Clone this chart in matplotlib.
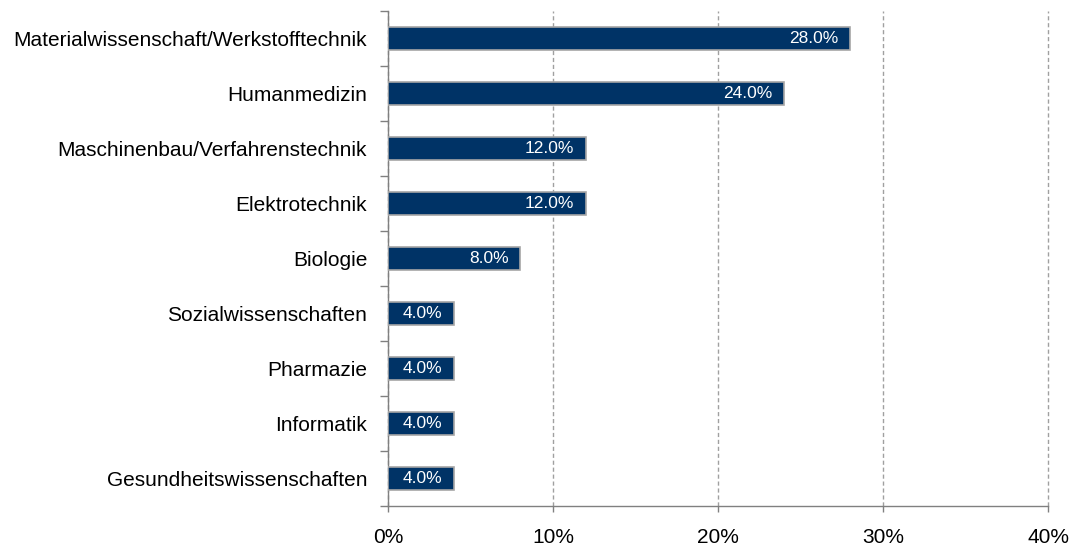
import matplotlib.pyplot as plt
from matplotlib.ticker import FixedLocator, PercentFormatter
import numpy as np

categories = [
    "Materialwissenschaft/Werkstofftechnik",
    "Humanmedizin",
    "Maschinenbau/Verfahrenstechnik",
    "Elektrotechnik",
    "Biologie",
    "Sozialwissenschaften",
    "Pharmazie",
    "Informatik",
    "Gesundheitswissenschaften",
]
shares = [28.0, 24.0, 12.0, 12.0, 8.0, 4.0, 4.0, 4.0, 4.0]
x_ticks = [0, 10, 20, 30, 40]

plt.rcParams['font.family'] = ['Liberation Sans', 'DejaVu Sans']

fig = plt.figure(figsize=(10.74, 5.45), dpi=100)
# axes box in pixels: x 388..1048, y 11..506
ax = fig.add_axes([388 / 1074, 1 - 506 / 545, 660 / 1074, 495 / 545])

pos = np.arange(len(categories))
bars = ax.barh(pos, shares, height=0.42, color="#003366",
               edgecolor="#a6a6a6", linewidth=1.2, zorder=3)

for b, v in zip(bars, shares):
    ax.text(b.get_width() - 0.7, b.get_y() + b.get_height() / 2, f"{v:.1f}%",
            ha="right", va="center", color="white", fontsize=12.5, zorder=4)

ax.set_xlim(0, 40)
ax.set_ylim(len(categories) - 0.5, -0.5)
ax.set_xticks(x_ticks)
ax.xaxis.set_major_formatter(PercentFormatter(decimals=0))
ax.set_yticks(pos)
ax.set_yticklabels(categories, fontsize=15)
ax.yaxis.set_minor_locator(FixedLocator(np.arange(-0.5, len(categories), 1)))

ax.tick_params(axis="y", which="major", length=0, pad=15)
ax.tick_params(axis="y", which="minor", length=6, color="#808080", width=1)
ax.tick_params(axis="x", length=4.5, color="#808080", width=1, labelsize=15, pad=11)

ax.grid(axis="x", linestyle=(0, (3, 2)), color="#a0a0a0", linewidth=1, zorder=0)
for line in ax.get_xgridlines():
    line.set_clip_on(False)
for side in ("top", "right"):
    ax.spines[side].set_visible(False)
for side in ("left", "bottom"):
    ax.spines[side].set_color("#808080")
    ax.spines[side].set_linewidth(1)

fig.savefig("out.png", dpi=100)
